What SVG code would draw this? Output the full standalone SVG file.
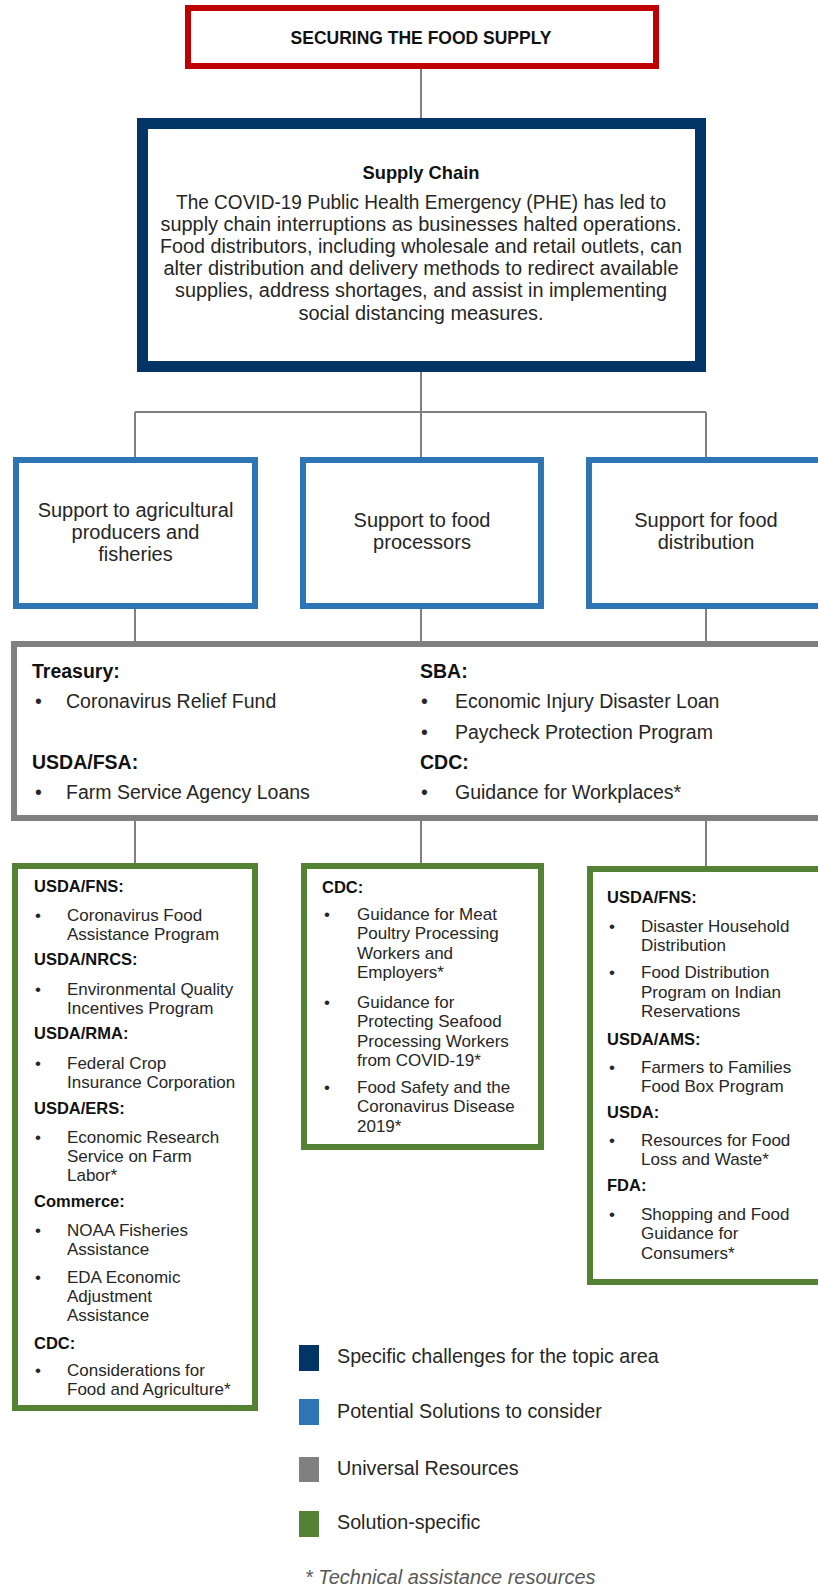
<svg xmlns="http://www.w3.org/2000/svg" width="818" height="1589" viewBox="0 0 818 1589">
<style>
text{font-family:"Liberation Sans",Arial,sans-serif;fill:#262626}
.b{font-weight:bold;fill:#111}
.c{text-anchor:middle}
.t18{font-size:17.5px}
.t20{font-size:20px}
.t19{font-size:19.5px}
.t17{font-size:17px}
.h17{font-size:16.5px;font-weight:bold;fill:#111}
.box{fill:#fff}
.red{stroke:#C00000;stroke-width:6}
.navy{stroke:#033466;stroke-width:11}
.blue{stroke:#2E75B6;stroke-width:6}
.gray{stroke:#808080;stroke-width:6}
.green{stroke:#548235;stroke-width:6}
.conn{stroke:#808080;stroke-width:2;fill:none}
</style>
<rect width="818" height="1589" fill="#fff"/>
<g id="connectors">
<path class="conn" d="M421 69V118M421 372V412M135 412H706M135 412V457M421 412V457M706 412V457M135 609V641M421 609V641M706 609V641M135 821V863M421 821V863M706 821V866"/>
</g>
<g id="title">
<rect class="box red" x="188" y="8" width="468" height="58"/>
<text class="b c t18" x="421" y="44">SECURING THE FOOD SUPPLY</text>
</g>
<g id="supply-chain">
<rect class="box navy" x="142.5" y="123.5" width="558" height="243"/>
<text class="b c" x="421" y="179" font-size="19" textLength="117" lengthAdjust="spacingAndGlyphs">Supply Chain</text>
<g class="c t20">
<text x="421" y="208.5" textLength="490" lengthAdjust="spacingAndGlyphs">The COVID-19 Public Health Emergency (PHE) has led to</text>
<text x="421" y="230.7" textLength="521" lengthAdjust="spacingAndGlyphs">supply chain interruptions as businesses halted operations.</text>
<text x="421" y="252.9" textLength="522" lengthAdjust="spacingAndGlyphs">Food distributors, including wholesale and retail outlets, can</text>
<text x="421" y="275.1" textLength="515" lengthAdjust="spacingAndGlyphs">alter distribution and delivery methods to redirect available</text>
<text x="421" y="297.3" textLength="492" lengthAdjust="spacingAndGlyphs">supplies, address shortages, and assist in implementing</text>
<text x="421" y="319.5" textLength="245" lengthAdjust="spacingAndGlyphs">social distancing measures.</text>
</g>
</g>
<g id="support-agri">
<rect class="box blue" x="16" y="460" width="239" height="146"/>
<text class="c t20" x="135.5" y="517">Support to agricultural</text>
<text class="c t20" x="135.5" y="539">producers and</text>
<text class="c t20" x="135.5" y="561">fisheries</text>
</g>
<g id="support-processors">
<rect class="box blue" x="303" y="460" width="238" height="146"/>
<text class="c t20" x="422" y="527">Support to food</text>
<text class="c t20" x="422" y="549">processors</text>
</g>
<g id="support-distribution">
<rect class="box blue" x="589" y="460" width="239" height="146"/>
<text class="c t20" x="706" y="527">Support for food</text>
<text class="c t20" x="706" y="549">distribution</text>
</g>
<g id="universal-resources">
<rect class="box gray" x="14" y="644" width="820" height="174"/>
<g class="t19">
<text class="b" x="32" y="678">Treasury:</text>
<text x="35" y="708">•</text><text x="66" y="708">Coronavirus Relief Fund</text>
<text class="b" x="32" y="769">USDA/FSA:</text>
<text x="35" y="799">•</text><text x="66" y="799">Farm Service Agency Loans</text>
<text class="b" x="420" y="678">SBA:</text>
<text x="421" y="708">•</text><text x="455" y="708">Economic Injury Disaster Loan</text>
<text x="421" y="739">•</text><text x="455" y="739">Paycheck Protection Program</text>
<text class="b" x="420" y="769">CDC:</text>
<text x="421" y="799">•</text><text x="455" y="799">Guidance for Workplaces*</text>
</g>
</g>
<g id="agri-resources">
<rect class="box green" x="15" y="866" width="240" height="542"/>
<g class="t17">
<text class="h17" x="34" y="892">USDA/FNS:</text>
<text x="35" y="920.5">•</text><text x="67" y="920.5">Coronavirus Food</text>
<text x="67" y="939.5">Assistance Program</text>
<text class="h17" x="34" y="965">USDA/NRCS:</text>
<text x="35" y="994.5">•</text><text x="67" y="994.5">Environmental Quality</text>
<text x="67" y="1013.5">Incentives Program</text>
<text class="h17" x="34" y="1039">USDA/RMA:</text>
<text x="35" y="1068.5">•</text><text x="67" y="1068.5">Federal Crop</text>
<text x="67" y="1087.5">Insurance Corporation</text>
<text class="h17" x="34" y="1114">USDA/ERS:</text>
<text x="35" y="1142.5">•</text><text x="67" y="1142.5">Economic Research</text>
<text x="67" y="1161.5">Service on Farm</text>
<text x="67" y="1180.5">Labor*</text>
<text class="h17" x="34" y="1207">Commerce:</text>
<text x="35" y="1235.5">•</text><text x="67" y="1235.5">NOAA Fisheries</text>
<text x="67" y="1254.5">Assistance</text>
<text x="35" y="1283">•</text><text x="67" y="1283">EDA Economic</text>
<text x="67" y="1302">Adjustment</text>
<text x="67" y="1321">Assistance</text>
<text class="h17" x="34" y="1349">CDC:</text>
<text x="35" y="1375.5">•</text><text x="67" y="1375.5">Considerations for</text>
<text x="67" y="1394.5">Food and Agriculture*</text>
</g>
</g>
<g id="processor-resources">
<rect class="box green" x="304" y="866" width="237" height="281"/>
<g class="t17">
<text class="h17" x="322" y="893">CDC:</text>
<text x="324" y="919.5">•</text><text x="357" y="919.5">Guidance for Meat</text>
<text x="357" y="939">Poultry Processing</text>
<text x="357" y="958.5">Workers and</text>
<text x="357" y="978">Employers*</text>
<text x="324" y="1007.5">•</text><text x="357" y="1007.5">Guidance for</text>
<text x="357" y="1027">Protecting Seafood</text>
<text x="357" y="1046.5">Processing Workers</text>
<text x="357" y="1066">from COVID-19*</text>
<text x="324" y="1092.5">•</text><text x="357" y="1092.5">Food Safety and the</text>
<text x="357" y="1112">Coronavirus Disease</text>
<text x="357" y="1131.5">2019*</text>
</g>
</g>
<g id="distribution-resources">
<rect class="box green" x="590" y="869" width="240" height="413"/>
<g class="t17">
<text class="h17" x="607" y="903">USDA/FNS:</text>
<text x="609" y="931.5">•</text><text x="641" y="931.5">Disaster Household</text>
<text x="641" y="950.5">Distribution</text>
<text x="609" y="978">•</text><text x="641" y="978">Food Distribution</text>
<text x="641" y="997.5">Program on Indian</text>
<text x="641" y="1017">Reservations</text>
<text class="h17" x="607" y="1045">USDA/AMS:</text>
<text x="609" y="1072.5">•</text><text x="641" y="1072.5">Farmers to Families</text>
<text x="641" y="1091.5">Food Box Program</text>
<text class="h17" x="607" y="1118">USDA:</text>
<text x="609" y="1145.5">•</text><text x="641" y="1145.5">Resources for Food</text>
<text x="641" y="1164.5">Loss and Waste*</text>
<text class="h17" x="607" y="1191">FDA:</text>
<text x="609" y="1219.5">•</text><text x="641" y="1219.5">Shopping and Food</text>
<text x="641" y="1239">Guidance for</text>
<text x="641" y="1258.5">Consumers*</text>
</g>
</g>
<g id="legend">
<rect x="299" y="1345" width="20" height="26" fill="#033466"/>
<text x="337" y="1363" font-size="19.7px">Specific challenges for the topic area</text>
<rect x="299" y="1399" width="20" height="26" fill="#2E75B6"/>
<text x="337" y="1418" font-size="19.7px">Potential Solutions to consider</text>
<rect x="299" y="1457" width="20" height="25" fill="#808080"/>
<text x="337" y="1475" font-size="19.7px">Universal Resources</text>
<rect x="299" y="1511" width="20" height="26" fill="#548235"/>
<text x="337" y="1529" font-size="19.7px">Solution-specific</text>
<text x="305" y="1584" font-size="20px" font-style="italic" fill="#595959" style="fill:#595959">* Technical assistance resources</text>
</g>
</svg>
